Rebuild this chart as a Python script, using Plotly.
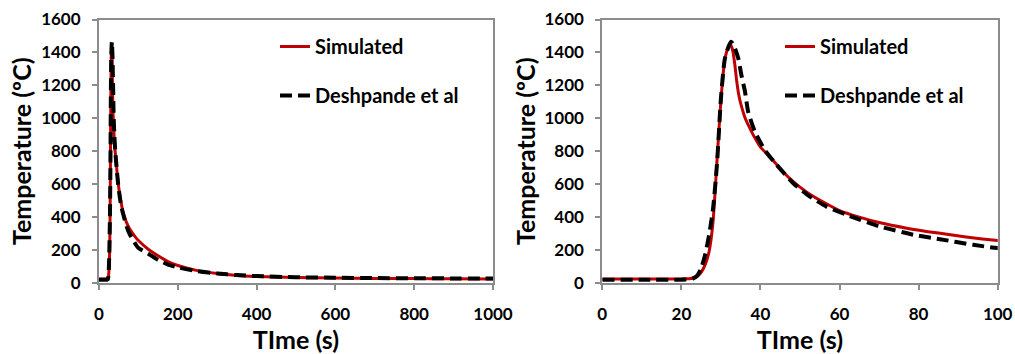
import plotly.graph_objects as go

# ---- data ----
sim_t = [0, 10, 20, 22, 23, 24, 25, 26, 27, 28, 29, 30, 31, 32, 32.5, 33, 33.5, 34, 34.5, 35,
         35.5, 36, 37, 38.2, 40, 42, 44, 46, 48, 50, 52, 56, 60, 65, 70, 77, 85, 92, 100,
         125, 150, 175, 200, 250, 300, 350, 400, 500, 600, 700, 800, 900, 1000]
sim_T = [25, 25, 25, 26, 30, 40, 65, 110, 190, 370, 740, 1110, 1360, 1435, 1445, 1410, 1330, 1225, 1145, 1090,
         1048, 1010, 955, 898, 825, 775, 722, 668, 622, 582, 547, 490, 440, 400, 367, 333, 303, 280, 258,
         205, 165, 130, 106, 75, 58, 46, 40, 33, 30, 28, 27, 26, 25]

des_t = [0, 10, 20, 22, 23, 24, 25, 26, 27, 28, 29, 30, 31, 32, 32.6, 33.3, 34.4, 35.2, 36.1,
         36.9, 38.6, 41.1, 44, 48.3, 52.5, 56.7, 61.8, 70.2, 78.7, 85.4, 93.8, 100,
         125, 150, 175, 200, 250, 300, 350, 400, 500, 600, 700, 800, 900, 1000]
des_T = [20, 20, 20, 22, 28, 45, 90, 170, 290, 450, 720, 1120, 1363, 1440, 1465, 1440, 1363, 1260, 1161,
         1039, 918, 807, 720, 606, 525, 464, 414, 343, 293, 266, 232, 212,
         178, 140, 112, 95, 72, 58, 48, 42, 35, 32, 30, 29, 28, 27]

x_ticks_left = [0, 200, 400, 600, 800, 1000]
x_ticks_right = [0, 20, 40, 60, 80, 100]
y_ticks = [0, 200, 400, 600, 800, 1000, 1200, 1400, 1600]

series_names = ["Simulated", "Deshpande et al"]

RED = "#c00000"
AXC = "#8c8c8c"
FONT = "Lato"

fig = go.Figure()

for i, (xa, ya, leg) in enumerate([("x", "y", "legend"), ("x2", "y2", "legend2")]):
    fig.add_trace(go.Scatter(x=sim_t, y=sim_T, mode="lines", name=series_names[0],
                             line=dict(color=RED, width=3, shape="spline", smoothing=0.6),
                             xaxis=xa, yaxis=ya, legend=leg, legendgroup=f"s{i}"))
    fig.add_trace(go.Scatter(x=des_t, y=des_T, mode="lines", name=series_names[1],
                             line=dict(color="black", width=4, dash="12px,6px",
                                       shape="spline", smoothing=0.6),
                             xaxis=xa, yaxis=ya, legend=leg, legendgroup=f"d{i}"))

W, H = 1015, 354
xd1 = [99 / W, 493 / W]
xd2 = [602.3 / W, 997.7 / W]
yd = [1 - 283 / H, 1 - 19.5 / H]

tickfont = dict(family=FONT, size=17, color="black", weight="bold")
titlefont = dict(family=FONT, size=25, color="black", weight="bold")
legfont = dict(family=FONT, size=20, color="black", weight="bold")

def axis_common(standoff):
    return dict(showline=True, linecolor=AXC, linewidth=2, mirror=True,
                ticks="outside", ticklen=5, tickwidth=1.5, tickcolor=AXC,
                showgrid=False, zeroline=False, tickfont=tickfont,
                ticklabelstandoff=standoff, automargin=False)

fig.update_layout(
    width=W, height=H,
    margin=dict(l=0, r=0, t=0, b=0),
    paper_bgcolor="white", plot_bgcolor="white",
    xaxis=dict(domain=xd1, anchor="y", range=[0, 1000], tickvals=x_ticks_left,
               title=dict(text="TIme (s)", font=titlefont, standoff=3), **axis_common(10)),
    yaxis=dict(domain=yd, anchor="x", range=[0, 1600], tickvals=y_ticks,
               title=dict(text="Temperature (ºC)", font=titlefont, standoff=2), **axis_common(8)),
    xaxis2=dict(domain=xd2, anchor="y2", range=[0, 100], tickvals=x_ticks_right,
                title=dict(text="TIme (s)", font=titlefont, standoff=3), **axis_common(10)),
    yaxis2=dict(domain=yd, anchor="x2", range=[0, 1600], tickvals=y_ticks,
                title=dict(text="Temperature (ºC)", font=titlefont, standoff=2), **axis_common(8)),
    legend=dict(x=275 / W, y=1 - 27 / H, xanchor="left", yanchor="top",
                bgcolor="rgba(0,0,0,0)", font=legfont,
                traceorder="grouped", tracegroupgap=20),
    legend2=dict(x=780 / W, y=1 - 27 / H, xanchor="left", yanchor="top",
                 bgcolor="rgba(0,0,0,0)", font=legfont,
                 traceorder="grouped", tracegroupgap=20),
    showlegend=True,
)

fig.write_html("out.html")
